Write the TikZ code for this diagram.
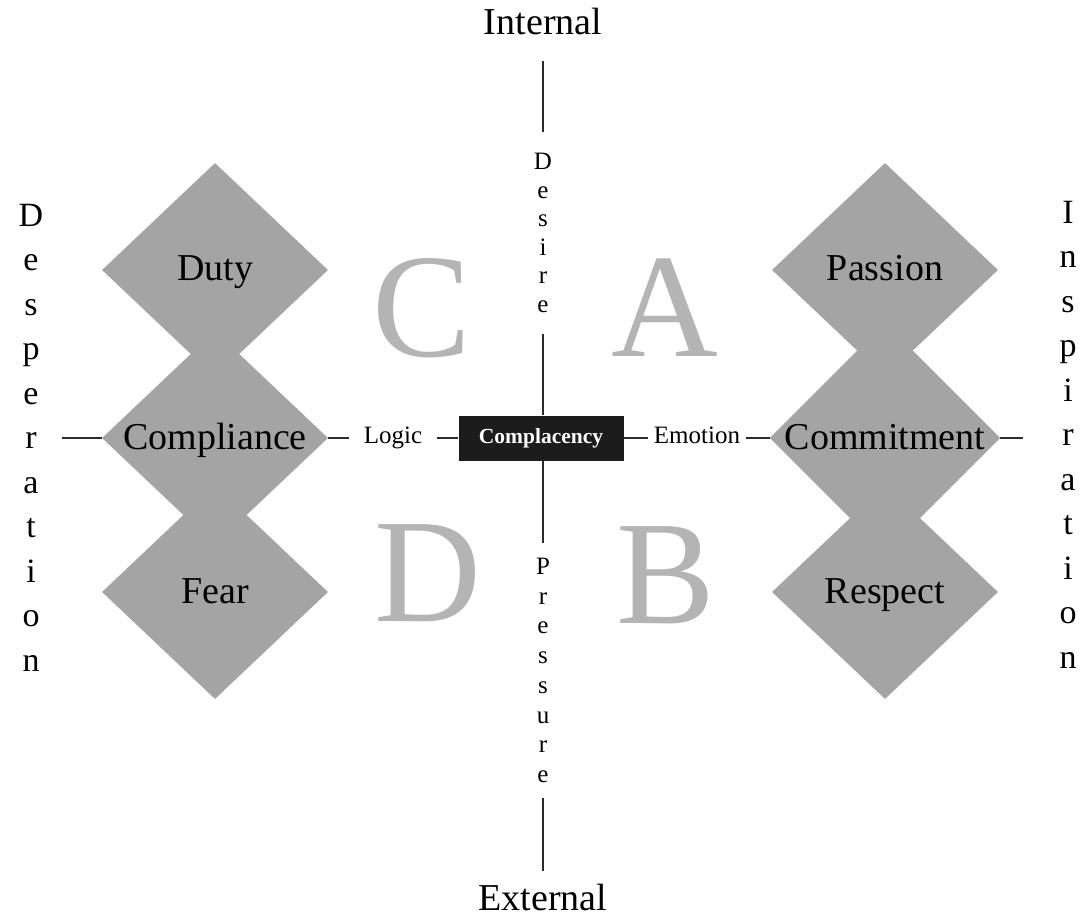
\documentclass[tikz,border=0pt]{standalone}
\usepackage{fontspec}
\setmainfont{Liberation Serif}
\usetikzlibrary{shapes.geometric}
\definecolor{gemfill}{HTML}{A4A4A4}
\definecolor{quadtext}{HTML}{B4B4B4}
\definecolor{wireline}{HTML}{2B2B2B}
\definecolor{boxfill}{HTML}{1C1C1C}

\begin{document}
\begin{tikzpicture}[
  x=1pt, y=-1pt,
  gem/.style    = {shape=diamond, fill=gemfill, inner sep=0pt, minimum width=226pt, minimum height=214pt,
                   text height=26pt, text depth=4pt, font=\fontsize{38}{40}\selectfont},
  quad/.style   = {text=quadtext, inner sep=0pt, font=\fontsize{148}{150}\selectfont},
  axislabel/.style = {inner ysep=0pt, text height=17pt, text depth=5.5pt, font=\fontsize{25}{28}\selectfont},
  stack/.style  = {align=center, inner xsep=0pt, anchor=north, font=\fontsize{25}{28.6}\selectfont},
  side/.style   = {align=center, inner sep=0pt, anchor=north, font=\fontsize{34}{44.5}\selectfont},
  pole/.style   = {inner xsep=0pt, anchor=base, font=\fontsize{38}{40}\selectfont},
  wire/.style   = {draw=wireline, line width=2.2pt},
]
\useasboundingbox[fill=white] (0,0) rectangle (1084,917);

%% ---------------------------------------------------------------- quadrants
\node[quad] (qc) at (422,308) {C};
\node[quad] (qa) at (665,308) {A};
\node[quad] (qd) at (428,573) {D};
\node[quad] (qb) at (666,575) {B};

%% ---------------------------------------------------------------- diamonds
\node[gem] (duty)       at (215,270) {Duty};
\node[gem] (compliance) at (215,438) {Compliance};
\node[gem] (fear)       at (215,592) {Fear};

\node[gem] (passion)    at (885,270) {Passion};
\node[gem] (commitment) at (885,438) {Commitment};
\node[gem] (respect)    at (885,592) {Respect};

%% ---------------------------------------------------------------- centre row
\node[fill=boxfill, text=white, inner sep=0pt, minimum width=165pt, minimum height=45pt,
      font=\fontsize{21.5}{24}\selectfont\bfseries] (complacency) at (541,438) {Complacency};
\node[axislabel, inner xsep=15pt] (logic)   at (393,438) {Logic};
\node[axislabel, inner xsep=6pt]  (emotion) at (697,438) {Emotion};

\coordinate (lend) at (62,438);
\coordinate (rend) at (1023,438);

\draw[wire] (lend) -- (compliance.west);
\draw[wire] (compliance.east) -- (logic.west);
\draw[wire] (logic.east) -- (complacency.west);
\draw[wire] (complacency.east) -- (emotion.west);
\draw[wire] (emotion.east) -- (commitment.west);
\draw[wire] (commitment.east) -- (rend);

%% ---------------------------------------------------------------- vertical axis
\node[pole, inner ysep=25pt] (internal) at (543,35)  {Internal};
\node[pole, inner ysep=12pt] (external) at (543,910) {External};

\node[stack, inner ysep=21pt] (desire) at (543,132) {D\\e\\s\\i\\r\\e};
\node[stack, inner ysep=15pt, font=\fontsize{25}{29.7}\selectfont] (pressure) at (543,543)
  {P\\r\\e\\s\\s\\u\\r\\e};

\draw[wire] (internal.south) -- (desire.north);
\draw[wire] (desire.south) -- (desire.south |- complacency.north);
\draw[wire] (pressure.north |- complacency.south) -- (pressure.north);
\draw[wire] (pressure.south) -- (external.north);

%% ---------------------------------------------------------------- sides
\node[side] (desperation) at (31,204)   {D\\e\\s\\p\\e\\r\\a\\t\\i\\o\\n};
\node[side] (inspiration) at (1068,201) {I\\n\\s\\p\\i\\r\\a\\t\\i\\o\\n};
\end{tikzpicture}
\end{document}
